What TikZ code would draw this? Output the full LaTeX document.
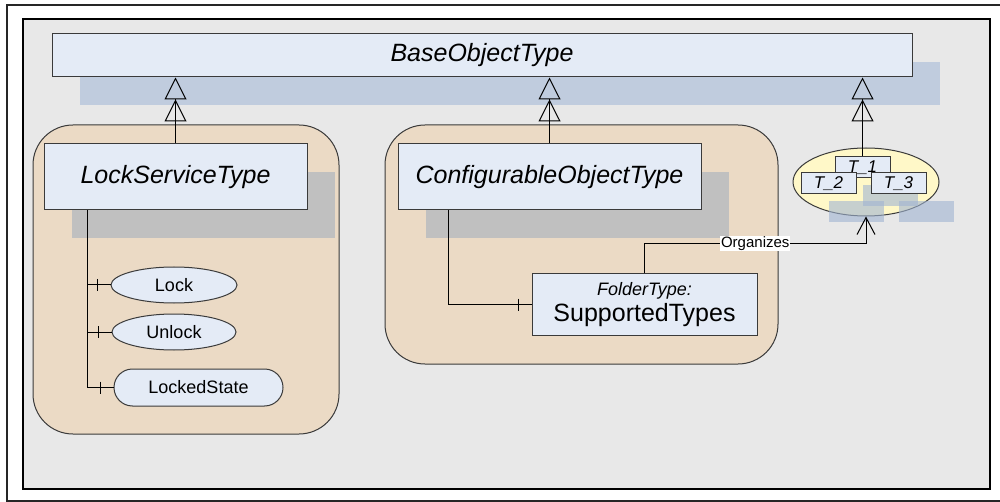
\documentclass[tikz,border=0pt]{standalone}
\usepackage{fontspec}
\setmainfont{Liberation Sans}
\usepackage{xcolor}
\usetikzlibrary{arrows.meta}
\usetikzlibrary{calc}
\usetikzlibrary{positioning}
\usetikzlibrary{shapes.geometric}
\usetikzlibrary{shapes.misc}
\usetikzlibrary{decorations.markings}

\definecolor{panelgray}{HTML}{E8E8E8}
\definecolor{typeblue}{HTML}{E4EBF6}
\definecolor{shadowblue}{HTML}{C0CCDE}
\definecolor{shadowtint}{HTML}{A0B4D2}
\definecolor{shadowgray}{HTML}{C0C0C0}
\definecolor{groupbeige}{HTML}{EBDAC5}
\definecolor{setyellow}{HTML}{FFF8C8}
\definecolor{edgegray}{HTML}{3A3A3A}

\begin{document}
\begin{tikzpicture}[
    x=1pt, y=-1pt,
    bigfont/.style={font=\fontsize{25pt}{30pt}\selectfont},
    smallfont/.style={font=\fontsize{18pt}{21pt}\selectfont},
    typebox/.style={draw=edgegray, fill=typeblue, line width=1pt, inner sep=0pt},
    groupbox/.style={draw=edgegray, fill=groupbeige, line width=1pt, rounded corners=40pt},
    member/.style={typebox, smallfont, ellipse},
    setmember/.style={typebox, minimum width=55, minimum height=21,
      font=\fontsize{17pt}{19pt}\selectfont\itshape},
    genline/.style={line width=1pt,
      -{Triangle[open,length=22pt,width=22pt,sep=0pt]Triangle[open,length=22pt,width=22pt]}},
    ownsline/.style={line width=1pt, postaction={decorate, decoration={markings,
      mark=at position -13pt with {\draw[line width=0.8pt] (0,-6) -- (0,6);}}}},
    refline/.style={line width=1pt, -{Straight Barb[length=17pt,width=18pt,line width=1pt]}}
  ]

    \useasboundingbox (0, 0) rectangle (1000, 502);
    \draw [line width=1.5pt, draw=black!85] (7, 5) rectangle (1010, 501);
    \draw [line width=1.5pt, fill=panelgray] (23, 19) rectangle (990, 489);

    \fill [shadowblue] (80, 62) rectangle (940, 105);
    \node [typebox, bigfont, minimum width=860, minimum height=43]
    (base) at (482, 55.5) {\itshape BaseObjectType};

    \draw [groupbox] (33, 125) rectangle (339, 434);
    \draw [groupbox] (385, 125) rectangle (778, 364);

    \fill [shadowgray] (72, 172) rectangle (335, 238);
    \node [typebox, bigfont, minimum width=263, minimum height=66]
    (lockservice) at (175.5, 177) {\itshape LockServiceType};

    \fill [shadowgray] (426, 172) rectangle (729, 238);
    \node [typebox, bigfont, minimum width=303, minimum height=66]
    (configurable) at (549.5, 177) {\itshape ConfigurableObjectType};

    \node [member, minimum width=126, minimum height=36] (lock) at (174, 285) {Lock};
    \node [member, minimum width=124, minimum height=36] (unlock) at (174, 332) {Unlock};
    \node [typebox, smallfont, rounded rectangle, minimum width=169, minimum height=37]
    (lockedstate) at (198.5, 387.5) {LockedState};

    \node [typebox, minimum width=225, minimum height=61, align=center]
    (supported) at (644.5, 304.5)
    {{\fontsize{18pt}{20pt}\selectfont\itshape FolderType:}\\[3pt]
     {\fontsize{25pt}{28pt}\selectfont SupportedTypes}};

    \node [draw=edgegray, fill=setyellow, line width=1pt, ellipse,
    minimum width=146, minimum height=68, inner sep=0pt] (typeset) at (866, 182) {};
    \fill [shadowtint, opacity=0.6] (863, 185) rectangle (918, 206);
    \fill [shadowtint, opacity=0.6] (829, 201) rectangle (884, 222);
    \fill [shadowtint, opacity=0.6] (899, 201) rectangle (954, 222);
    \node [setmember] (t1) at (862.5, 167.5) {T\_1};
    \node [setmember] (t2) at (828.5, 183.5) {T\_2};
    \node [setmember] (t3) at (898.5, 183.5) {T\_3};

    \draw [genline] (lockservice.north) -- (lockservice.north |- base.south);
    \draw [genline] (configurable.north) -- (configurable.north |- base.south);
    \draw [genline] (t1.north) -- (t1.north |- base.south);

    \coordinate (locktrunk) at ($(lockservice.south west)+(44, 0)$);
    \draw [line width=1pt] (locktrunk) -- (locktrunk |- lockedstate.west);
    \draw [ownsline] (locktrunk |- lock.west) -- (lock.west);
    \draw [ownsline] (locktrunk |- unlock.west) -- (unlock.west);
    \draw [ownsline] (locktrunk |- lockedstate.west) -- (lockedstate.west);

    \coordinate (configtrunk) at ($(configurable.south west)+(51, 0)$);
    \draw [ownsline] (configtrunk) |- (supported.west);

    \draw [refline] (supported.north) -- ++(0, -30)
    -| node [pos=0.25, fill=white, inner sep=1pt,
    font=\fontsize{15pt}{17pt}\selectfont] {Organizes} (typeset.south);

  \end{tikzpicture}
\end{document}
